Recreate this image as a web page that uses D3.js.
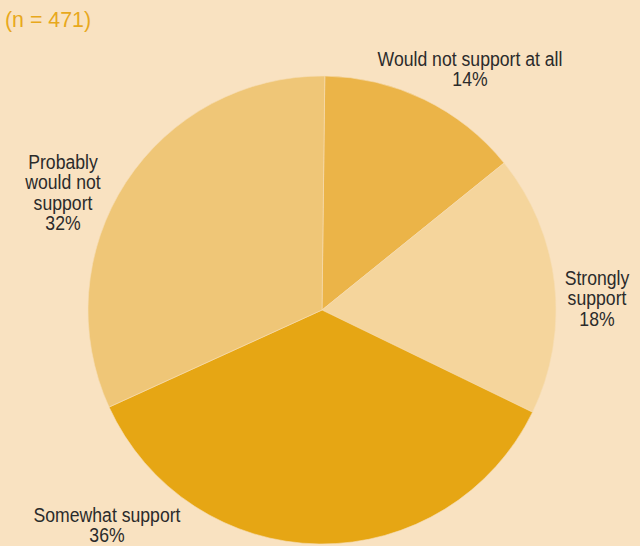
<!DOCTYPE html>
<html>
<head>
<meta charset="utf-8">
<script src="https://cdn.jsdelivr.net/npm/d3@7"></script>
<style>
  html, body { margin: 0; padding: 0; background: #F9E2C1; }
  svg { display: block; }
  text { font-family: "Liberation Sans", Arial, sans-serif; }
</style>
</head>
<body>
<svg id="chart" width="640" height="546"></svg>
<script>
// Survey responses, in drawing order (clockwise from 12 o'clock)
const categories = ["Would not support at all", "Strongly support", "Somewhat support", "Probably would not support"];
const percents = [14, 18, 36, 32];
const sliceColors = ["#EBB448", "#F5D59C", "#E6A614", "#EFC677"];
const sampleSize = 471;

// Label lines (wrapped as in the layout) and anchor points for each label
const labelLines = [
  ["Would not support at all"],
  ["Strongly", "support"],
  ["Somewhat support"],
  ["Probably", "would not", "support"]
];
const labelAnchors = [[470, 65.5], [597, 285], [107, 521.5], [63, 169]];

const svg = d3.select("#chart");
const W = 640, H = 546;
const cx = 322, cy = 310, radius = 234;
const condense = 0.84; // narrow type

svg.append("rect").attr("width", W).attr("height", H).attr("fill", "#F9E2C1");

svg.append("text")
  .attr("transform", `translate(5,27) scale(0.93,1)`)
  .attr("font-size", 23)
  .attr("fill", "#E8A81C")
  .text(`(n = ${sampleSize})`);

const pie = d3.pie().sort(null).value(d => d)
  .startAngle(0.012).endAngle(0.012 + 2 * Math.PI);
const arc = d3.arc().innerRadius(0).outerRadius(radius);

const g = svg.append("g").attr("transform", `translate(${cx},${cy})`);
g.selectAll("path")
  .data(pie(percents))
  .join("path")
  .attr("d", arc)
  .attr("fill", (d, i) => sliceColors[i])
  .attr("stroke", "#F7DDB5")
  .attr("stroke-width", 0.6);

const lineH = 20.5;
categories.forEach((c, i) => {
  const [x, y] = labelAnchors[i];
  const t = svg.append("text")
    .attr("transform", `translate(${x},${y}) scale(${condense},1)`)
    .attr("text-anchor", "middle")
    .attr("font-size", 21)
    .attr("fill", "#2B2B2B");
  const lines = labelLines[i].concat([percents[i] + "%"]);
  lines.forEach((ln, k) => {
    t.append("tspan").attr("x", 0).attr("dy", k === 0 ? 0 : lineH).text(ln);
  });
});
</script>
</body>
</html>
